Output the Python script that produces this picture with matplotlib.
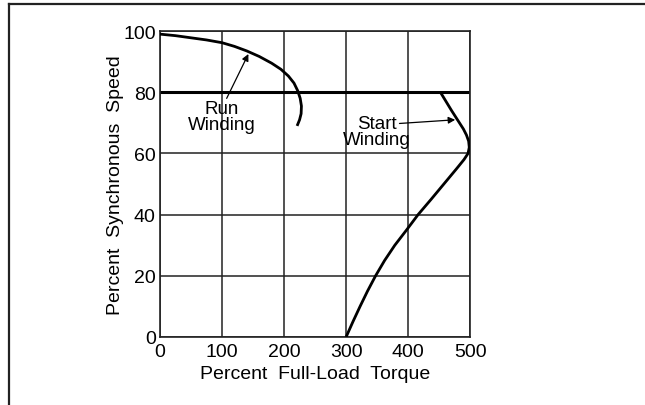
import matplotlib
matplotlib.use("Agg")
import matplotlib.pyplot as plt
from matplotlib.lines import Line2D

plt.rcParams['font.family'] = ['Liberation Sans', 'DejaVu Sans']

# Data
run_x = [0, 25, 50, 75, 100, 120, 140, 160, 180, 195, 207, 216, 222, 226, 228, 227.5, 225, 221]
run_y = [99, 98.5, 97.8, 97.1, 96.2, 95, 93.5, 91.7, 89.5, 87.5, 85.3, 83, 80.5, 78, 75.5, 73, 71, 69]

start_x = [300, 311, 322.5, 334.5, 347.5, 362, 378.5, 397.5, 416, 437, 457.5, 478, 490, 496.5,
           498.5, 497.5, 494, 489, 479.5, 470, 461, 452]
start_y = [0, 5, 10, 15, 20, 25, 30, 35, 40, 45, 50, 55, 58, 60,
           62, 64, 66, 68, 71, 74, 77, 80]

x_ticks = [0, 100, 200, 300, 400, 500]
y_ticks = [0, 20, 40, 60, 80, 100]

my_dpi = 100
fig = plt.figure(figsize=(645/my_dpi, 406/my_dpi), dpi=my_dpi)
ax = fig.add_axes([0.248, 0.1675, 0.481, 0.7535])

# grid
for xv in x_ticks:
    ax.axvline(xv, color='#222222', lw=1.1, zorder=1)
for yv in y_ticks:
    ax.axhline(yv, color='#222222', lw=1.1, zorder=1)
ax.axhline(80, color='black', lw=2.2, zorder=2)

# curves
ax.plot(run_x, run_y, color='black', lw=2.0, zorder=3, solid_capstyle='butt', solid_joinstyle='round')
ax.plot(start_x, start_y, color='black', lw=2.0, zorder=3, solid_capstyle='butt', solid_joinstyle='round')

# labels with arrows
ax.annotate('', xy=(142.5, 92.5), xytext=(107.5, 78),
            arrowprops=dict(arrowstyle='-|>', lw=0.9, color='black', mutation_scale=10, shrinkA=0, shrinkB=0))
ax.text(100, 72, 'Run\nWinding', ha='center', va='center', fontsize=13.5, linespacing=0.9)

ax.annotate('', xy=(475.8, 71), xytext=(386, 69.8),
            arrowprops=dict(arrowstyle='-|>', lw=0.9, color='black', mutation_scale=10, shrinkA=0, shrinkB=0))
ax.text(349, 67.1, 'Start\nWinding', ha='center', va='center', fontsize=13.5, linespacing=0.9)

ax.set_xlim(0, 500)
ax.set_ylim(0, 100)
ax.set_xticks(x_ticks)
ax.set_yticks(y_ticks)
ax.tick_params(length=0, labelsize=14)
ax.tick_params(axis='x', pad=4)
ax.tick_params(axis='y', pad=3)
for s in ax.spines.values():
    s.set_linewidth(1.2)
    s.set_color('#222222')

ax.set_xlabel('Percent  Full-Load  Torque', fontsize=14, va='center')
ax.xaxis.set_label_coords(0.5, -0.12)
ax.set_ylabel('Percent  Synchronous  Speed', fontsize=14, va='center')
ax.yaxis.set_label_coords(-0.142, 0.5)

# outer frame (top and left edges only visible)
fig.add_artist(Line2D([8.5/645, 1], [1 - 4.5/406, 1 - 4.5/406], transform=fig.transFigure, color='#222222', lw=1.6))
fig.add_artist(Line2D([8.5/645, 8.5/645], [0, 1 - 4.5/406], transform=fig.transFigure, color='#222222', lw=1.6))

plt.savefig('out.png', dpi=my_dpi)
